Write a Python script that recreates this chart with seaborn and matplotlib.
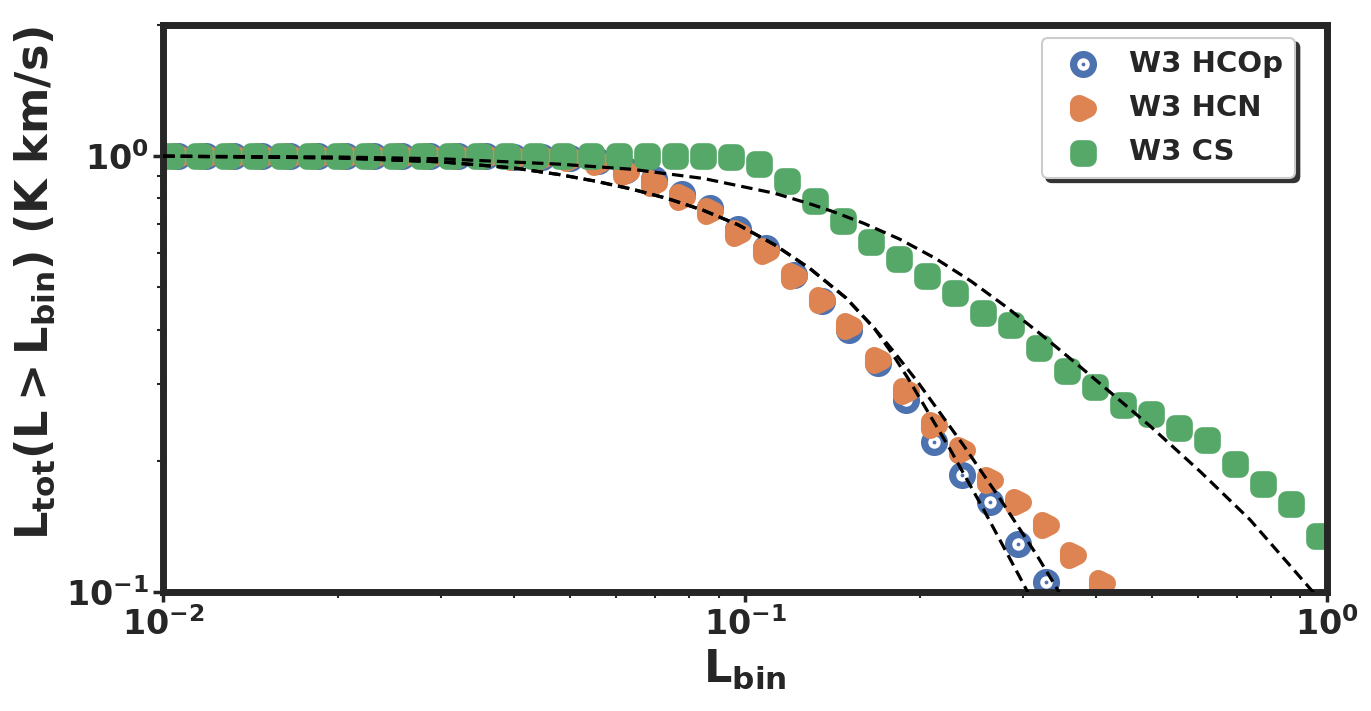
"""
W3 累积光度分布 - HCOp / HCN / CS 对比
"""

import numpy as np
import matplotlib
matplotlib.use('Agg')
import matplotlib.pyplot as plt
from matplotlib.markers import MarkerStyle
from matplotlib.path import Path
from matplotlib.ticker import NullFormatter
import seaborn as sns

sns.set_style("ticks")
plt.rcParams['font.family'] = ['DejaVu Sans']
plt.rcParams['font.weight'] = 'bold'
plt.rcParams['axes.labelweight'] = 'bold'
plt.rcParams['mathtext.fontset'] = 'dejavusans'
plt.rcParams['mathtext.default'] = 'bf'

# 数据: CS 的 L_bin 网格
lbin_cs = [0.01032, 0.01153, 0.01288, 0.01439, 0.01608, 0.01796, 0.02006, 0.02241,
           0.02503, 0.02797, 0.03124, 0.03490, 0.03899, 0.04356, 0.04866, 0.05436,
           0.06073, 0.06784, 0.07579, 0.08467, 0.09459, 0.1057, 0.1180, 0.1319,
           0.1473, 0.1646, 0.1838, 0.2054, 0.2294, 0.2563, 0.2863, 0.3199,
           0.3573, 0.3992, 0.4459, 0.4982, 0.5565, 0.6217, 0.6945, 0.7759,
           0.8668, 0.9689]
ltot_cs = [1.0, 1.0, 1.0, 1.0, 1.0, 1.0, 1.0, 1.0, 1.0, 1.0, 1.0, 1.0, 1.0, 1.0,
           1.0, 1.0, 1.0, 1.0, 1.0, 1.0, 0.995, 0.958, 0.877, 0.789, 0.710, 0.634,
           0.580, 0.531, 0.486, 0.437, 0.411, 0.363, 0.321, 0.296, 0.269, 0.256,
           0.238, 0.223, 0.197, 0.177, 0.159, 0.1345]

# HCOp / HCN 的 L_bin 网格
lbin_hcop = [0.01059, 0.01183, 0.01322, 0.01476, 0.01649, 0.01843, 0.02058, 0.02299,
             0.02569, 0.02869, 0.03206, 0.03581, 0.04001, 0.04469, 0.04993, 0.05578,
             0.06231, 0.06961, 0.07776, 0.08687, 0.09705, 0.1084, 0.1211, 0.1353,
             0.1511, 0.1689, 0.1886, 0.2107, 0.2354, 0.2630, 0.2938, 0.3282]
ltot_hcop = [1.0, 1.0, 1.0, 1.0, 1.0, 1.0, 1.0, 1.0, 1.0, 1.0, 1.0, 1.0, 0.998,
             0.995, 0.99, 0.975, 0.93, 0.885, 0.82, 0.76, 0.68, 0.615, 0.535, 0.465,
             0.40, 0.335, 0.276, 0.2216, 0.186, 0.161, 0.1287, 0.1056]
lbin_hcn = lbin_hcop + [0.3666, 0.4096]
ltot_hcn = [1.0, 1.0, 1.0, 1.0, 1.0, 1.0, 1.0, 1.0, 1.0, 1.0, 1.0, 1.0, 0.998,
            0.995, 0.99, 0.972, 0.92, 0.870, 0.804, 0.747, 0.668, 0.606, 0.531,
            0.469, 0.407, 0.341, 0.289, 0.242, 0.212, 0.181, 0.161, 0.1426, 0.1216,
            0.105]

# 拟合曲线 (虚线)
fit_common_x = [0.01, 0.02, 0.03, 0.04, 0.04809, 0.0554, 0.0638, 0.0735, 0.0847,
                0.0975, 0.1123, 0.1293, 0.149, 0.1668]
fit_common_y = [1.0, 0.9908, 0.9705, 0.9397, 0.9068, 0.8760, 0.8406, 0.7998, 0.7516,
                0.6950, 0.6266, 0.5521, 0.4732, 0.4027]
fit_hcop_x = fit_common_x + [0.18, 0.1908, 0.225, 0.2566, 0.3007, 0.32]
fit_hcop_y = fit_common_y + [0.3483, 0.3083, 0.2128, 0.1552, 0.1045, 0.0891]
fit_hcn_x = fit_common_x + [0.18, 0.1985, 0.2372, 0.2742, 0.3171, 0.3432, 0.37]
fit_hcn_y = fit_common_y + [0.3565, 0.3020, 0.2173, 0.1637, 0.1216, 0.1021, 0.0859]
fit_cs_x = [0.01, 0.02, 0.03, 0.04809, 0.0638, 0.0847, 0.1123, 0.1293, 0.1408, 0.1599,
            0.1841, 0.2121, 0.2443, 0.2812, 0.3239, 0.3733, 0.4298, 0.4966, 0.6051,
            0.7373, 0.9228, 1.0]
fit_cs_y = [1.0, 0.9954, 0.9863, 0.9585, 0.9333, 0.8892, 0.8222, 0.7772, 0.7482, 0.7015,
            0.6457, 0.5834, 0.5170, 0.4508, 0.3882, 0.3319, 0.2831, 0.2404, 0.1892,
            0.1466, 0.1040, 0.0918]

labels = ['W3 HCOp', 'W3 HCN', 'W3 CS']
colors = sns.color_palette('deep')

# 圆环 + 中心点 标记
outer = Path.circle((0, 0), 1.0)
inner = Path.circle((0, 0), 0.46)
inner_v = inner.vertices[:-1][::-1]
inner = Path(np.vstack([inner_v, inner_v[:1]]), inner.codes)
dot = Path.circle((0, 0), 0.14)
ring_marker = MarkerStyle(Path.make_compound_path(outer, inner, dot))

fig, ax = plt.subplots(figsize=(13.71, 7.11), dpi=100)
fig.subplots_adjust(left=0.119, right=0.968, top=0.965, bottom=0.167)

sns.scatterplot(x=lbin_hcop, y=ltot_hcop, marker=ring_marker, s=380,
                color=colors[0], edgecolor=colors[0], linewidth=0,
                label=labels[0], ax=ax)
sns.scatterplot(x=lbin_hcn, y=ltot_hcn, marker=MarkerStyle('>', joinstyle='round'), s=36,
                color=colors[1], edgecolor=colors[1], linewidth=13.5,
                joinstyle='round', label=labels[1], ax=ax)
sns.scatterplot(x=lbin_cs, y=ltot_cs, marker=MarkerStyle('s', joinstyle='round'), s=49,
                color=colors[2], edgecolor=colors[2], linewidth=12,
                joinstyle='round', label=labels[2], ax=ax)

for fx, fy in [(fit_hcop_x, fit_hcop_y), (fit_hcn_x, fit_hcn_y), (fit_cs_x, fit_cs_y)]:
    ax.plot(fx, fy, color='k', linestyle=(0, (3.6, 1.9)), linewidth=2.3, zorder=3)

ax.set_xscale('log')
ax.set_yscale('log')
ax.set_xlim(0.01, 1)
ax.set_ylim(0.1, 2)
ax.yaxis.set_minor_formatter(NullFormatter())
ax.xaxis.set_minor_formatter(NullFormatter())

ax.set_xlabel(r'$\mathbf{L_{bin}}$', fontsize=32, labelpad=4)
ax.set_ylabel(r'$\mathbf{L_{tot}(L > L_{bin})}$ (K km/s)', fontsize=32)
ax.yaxis.set_label_coords(-0.0915, 0.545)

ax.tick_params(which='major', length=7, width=2.5, labelsize=24, color='.15')
ax.tick_params(which='minor', length=4, width=1.5, color='.15')
for sp in ax.spines.values():
    sp.set_linewidth(5)
    sp.set_color('.15')

leg = ax.legend(loc='upper right', bbox_to_anchor=(0.9725, 0.977), borderaxespad=0,
                fontsize=21, frameon=True, fancybox=True,
                shadow={'ox': 3, 'oy': -3, 'shade': 0.8, 'alpha': 1},
                labelspacing=0.56, handletextpad=0.6, borderpad=0.4)
leg.get_frame().set_edgecolor('0.8')
leg.get_frame().set_linewidth(1.5)
leg.get_frame().set_alpha(1)
for h in leg.legend_handles:
    h.set_joinstyle('round')

plt.savefig('out.png', dpi=100)
plt.close()
print("✓ 保存: out.png")
